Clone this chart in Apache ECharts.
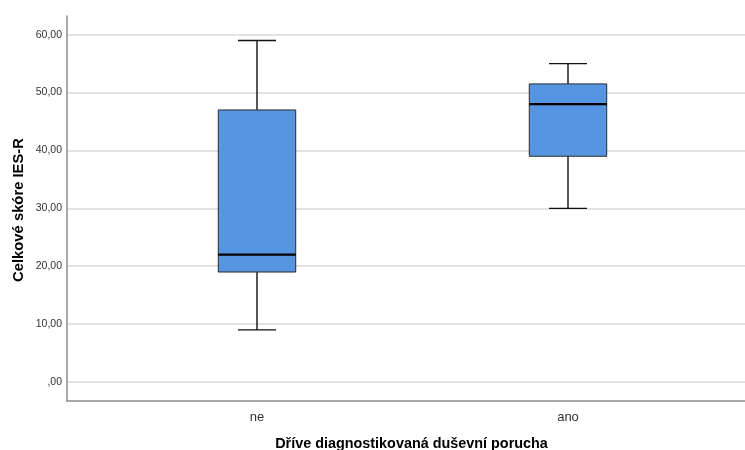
<!DOCTYPE html>
<html>
<head>
<meta charset="utf-8">
<script src="https://cdn.jsdelivr.net/npm/echarts@6/dist/echarts.min.js"></script>
<style>html,body{margin:0;padding:0;background:#fff}#c{width:745px;height:450px}</style>
</head>
<body>
<div id="c"></div>
<script>
const categories = ['ne', 'ano'];
const whiskerLow = [9, 30];
const q1 = [19, 39];
const median = [22, 48];
const q3 = [47, 51.5];
const whiskerHigh = [59, 55];
const yTicks = [0, 10, 20, 30, 40, 50, 60];
const yTitle = 'Celkové skóre IES-R';
const xTitle = 'Dříve diagnostikovaná duševní porucha';

const yMin = -3.28, yMax = 63.23;
const font = '"Liberation Sans", Arial, sans-serif';

function fmt(v) {
  const s = v.toFixed(2).replace('.', ',');
  return v === 0 ? s.replace(/^0/, '') : s;
}

const data = categories.map((c, i) => [i, whiskerLow[i], q1[i], median[i], q3[i], whiskerHigh[i]]);

const chart = echarts.init(document.getElementById('c'), null, {renderer: 'canvas'});
chart.setOption({
  animation: false,
  backgroundColor: '#ffffff',
  grid: [
    {left: 67, right: 0, top: 16, bottom: 49, containLabel: false},
    {left: 101.5, width: 622, top: 16, bottom: 49, containLabel: false}
  ],
  xAxis: [
    {gridIndex: 0, type: 'category', data: categories, boundaryGap: true,
     axisLine: {onZero: false, lineStyle: {color: '#8c8c8c', width: 1.5}}, axisTick: {show: false},
     axisLabel: {show: false}, splitLine: {show: false}},
    {gridIndex: 1, type: 'category', data: categories, boundaryGap: true,
     axisLine: {show: false, onZero: false}, axisTick: {show: false},
     axisLabel: {show: true, color: '#333', fontSize: 13, fontFamily: font, margin: 10},
     splitLine: {show: false}}
  ],
  yAxis: [
    {gridIndex: 0, type: 'value', min: yMin, max: yMax, splitNumber: 7,
     axisLine: {show: true, onZero: false, lineStyle: {color: '#8c8c8c', width: 1.5}}, axisTick: {show: false},
     axisLabel: {color: '#333', fontSize: 10.5, fontFamily: font, margin: 5,
       showMinLabel: false, showMaxLabel: false,
       formatter: v => (yTicks.some(t => Math.abs(t - v) < 1e-6) ? fmt(Math.round(v)) : '')},
     splitLine: {show: true, showMinLine: false, showMaxLine: false, lineStyle: {color: '#d9d9d9', width: 1.5}}},
    {gridIndex: 1, type: 'value', min: yMin, max: yMax, show: false, splitLine: {show: false}}
  ],
  graphic: [
    {type: 'text', x: 411.5, y: 444.5,
     style: {text: xTitle, font: 'bold 14.4px ' + font, fill: '#000', align: 'center', verticalAlign: 'middle'}},
    {type: 'text', x: 19, y: 210, rotation: Math.PI / 2,
     style: {text: yTitle, font: 'bold 14.8px ' + font, fill: '#000', align: 'center', verticalAlign: 'middle'}}
  ],
  series: [{
    type: 'custom',
    xAxisIndex: 1, yAxisIndex: 1,
    data: data,
    renderItem: function (params, api) {
      const x = api.value(0);
      const lo = api.coord([x, api.value(1)]);
      const b1 = api.coord([x, api.value(2)]);
      const md = api.coord([x, api.value(3)]);
      const b3 = api.coord([x, api.value(4)]);
      const hi = api.coord([x, api.value(5)]);
      const band = api.size([1, 0])[0];
      const bw = band * 0.249;
      const cw = band * 0.122;
      const cx = lo[0];
      const line = {stroke: '#111', lineWidth: 1.4};
      return {
        type: 'group',
        children: [
          {type: 'line', shape: {x1: cx, y1: hi[1], x2: cx, y2: b3[1]}, style: line},
          {type: 'line', shape: {x1: cx, y1: b1[1], x2: cx, y2: lo[1]}, style: line},
          {type: 'line', shape: {x1: cx - cw / 2, y1: hi[1], x2: cx + cw / 2, y2: hi[1]}, style: line},
          {type: 'line', shape: {x1: cx - cw / 2, y1: lo[1], x2: cx + cw / 2, y2: lo[1]}, style: line},
          {type: 'rect', shape: {x: cx - bw / 2, y: b3[1], width: bw, height: b1[1] - b3[1]},
           style: {fill: '#5595e2', stroke: '#2b2b2b', lineWidth: 1}},
          {type: 'line', shape: {x1: cx - bw / 2, y1: md[1], x2: cx + bw / 2, y2: md[1]},
           style: {stroke: '#000', lineWidth: 2.2}}
        ]
      };
    }
  }]
});
</script>
</body>
</html>
